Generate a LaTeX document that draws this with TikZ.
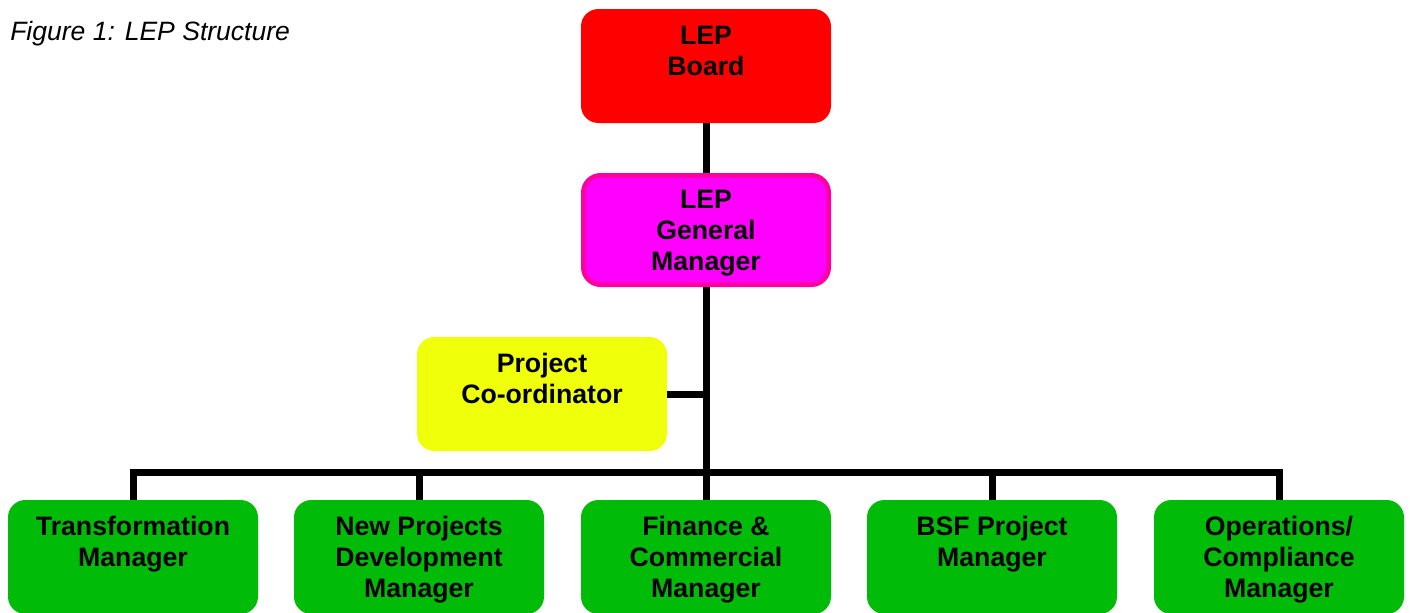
\documentclass[tikz,border=0pt]{standalone}
\usepackage{fontspec}
\setmainfont{Liberation Sans}
\definecolor{boardred}{RGB}{255,0,0}
\definecolor{gmfill}{RGB}{255,0,255}
\definecolor{gmedge}{RGB}{255,0,160}
\definecolor{coordyellow}{RGB}{240,255,10}
\definecolor{mgrgreen}{RGB}{0,187,8}
\begin{document}
\begin{tikzpicture}[x=0.75pt,y=-0.75pt,
  orgbox/.style={rounded corners=13pt, minimum width=187.5pt, minimum height=85.5pt,
    inner sep=0pt, align=center, text depth=-1.2pt,
    font=\fontsize{20}{23.25}\selectfont\bfseries},
  link/.style={line width=5.25pt, line join=miter, black}]
  \useasboundingbox (0,0) rectangle (1411,612);

  % caption
  \node[anchor=west, inner sep=0pt, font=\fontsize{19.9}{23}\selectfont\itshape] (caption) at (10,34) {Figure 1: LEP Structure};

  % upper levels
  \node[orgbox, fill=boardred] (board) at (706,66) {LEP\\Board\\\strut};
  \node[orgbox, fill=gmfill, draw=gmedge, line width=3.5pt,
        minimum width=184pt, minimum height=82pt] (gm) at (706,230) {LEP\\General\\Manager};
  \node[orgbox, fill=coordyellow] (pc) at (542,394) {Project\\Co-ordinator\\\strut};

  % managers
  \node[orgbox, fill=mgrgreen] (tm) at (133,557) {Transformation\\Manager\\\strut};
  \node[orgbox, fill=mgrgreen] (np) at (419,557) {New Projects\\Development\\Manager};
  \node[orgbox, fill=mgrgreen] (fc) at (706,557) {Finance \&\\Commercial\\Manager};
  \node[orgbox, fill=mgrgreen] (bsf) at (992,557) {BSF Project\\Manager\\\strut};
  \node[orgbox, fill=mgrgreen] (ops) at (1279,557) {Operations/\\Compliance\\Manager};

  \coordinate (bus) at (706,472);

  % connectors
  \draw[link] (board.south) -- (gm.north);
  \draw[link] (gm.south) -- (fc.north);
  \draw[link] (pc.east) -- (pc.east -| gm.south);
  \draw[link] (tm.north) |- (ops.north |- bus) -- (ops.north);
  \draw[link] (np.north) -- (np.north |- bus);
  \draw[link] (bsf.north) -- (bsf.north |- bus);
\end{tikzpicture}
\end{document}
